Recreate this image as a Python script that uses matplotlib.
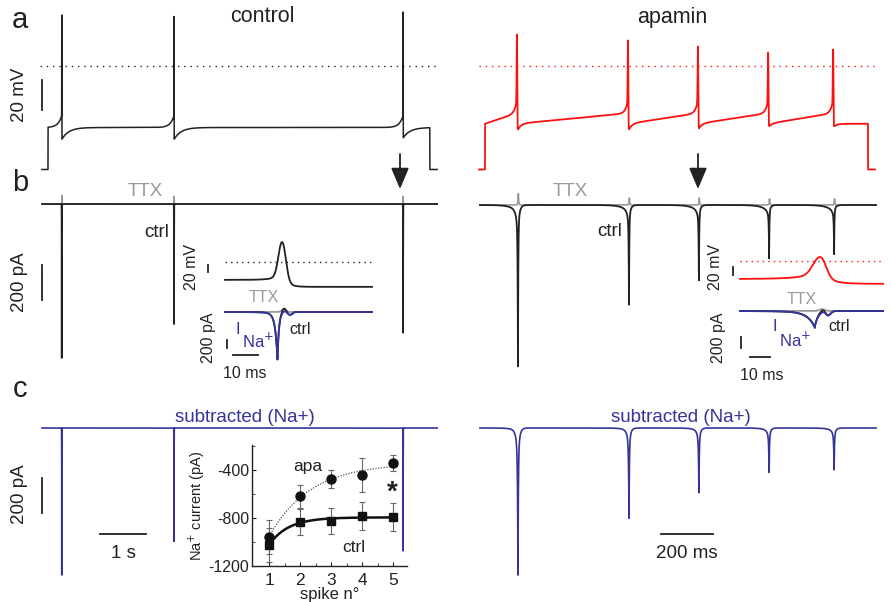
import numpy as np
import matplotlib.pyplot as plt
from matplotlib.patches import FancyArrowPatch

plt.rcParams["font.family"] = ["Liberation Sans", "DejaVu Sans"]
plt.rcParams["axes.unicode_minus"] = False

W, H = 891, 602
INK = "#222222"
RED = "#ff1010"
NAVY = "#34349a"
GREY = "#9a9a9a"

# ---- control (time in s) ----
ctrl_spike_t = [0.43, 2.87, 7.85]
ctrl_spike_peak = [34, 33, 36]          # mV
ctrl_ahp = [-49, -49, -48]              # mV
ctrl_rest, ctrl_hold = -69, -41
ctrl_step_on, ctrl_step_off, ctrl_end = 0.13, 8.43, 8.59
ctrl_i_raw = [-880, -710, -760]         # pA, panel b
ctrl_i_ttx = [50, 45, 45]
ctrl_i_sub = [-840, -670, -725]         # pA, panel c

# ---- apamin (time in ms) ----
apa_spike_t = [146, 573, 842, 1112, 1362]
apa_spike_peak = [21, 17, 13, 9, 11]
apa_ahp = [-44, -44, -43, -41, -41]
apa_rest, apa_hold = -69, -38.5
apa_step_on, apa_step_off, apa_end = 23, 1496, 1523
apa_i_raw = [-915, -550, -405, -275, -250]
apa_i_ttx = [65, 40, 40, 35, 35]
apa_i_sub = [-840, -510, -360, -240, -225]

# ---- insets (single spike, ms) ----
ins_ctrl_v = dict(t_pk=22.8, start=-51, thr=-33, peak=57, after=-71, end=58.8)
ins_apa_v = dict(t_pk=40.0, start=-45, thr=-28, peak=10, after=-57, end=71.5)
ins_ctrl_i = dict(t_pk=21.0, ina=-1100, ttx=70, rebound=-70, end=58.8)
ins_apa_i = dict(t_pk=37.5, ina=-270, ttx=35, rebound=-80, end=71.5)

# ---- summary plot ----
spike_n = [1, 2, 3, 4, 5]
apa_mean = [-958, -617, -475, -442, -342]
apa_err = [140, 95, 75, 140, 65]
ctrl_mean = [-1025, -833, -825, -783, -792]
ctrl_err = [145, 110, 110, 115, 120]

fig = plt.figure(figsize=(W / 100, H / 100), dpi=100)


class Panel:
    """axes placed on a pixel box; data mapped by origin pixel and px/unit"""
    def __init__(self, box, x0, xs, y0, ys):
        l, t, r, b = box
        self.x0, self.xs, self.y0, self.ys = x0, xs, y0, ys
        self.ax = fig.add_axes([l / W, 1 - b / H, (r - l) / W, (b - t) / H])
        self.ax.set_xlim((l - x0) / xs, (r - x0) / xs)
        self.ax.set_ylim((y0 - b) / ys, (y0 - t) / ys)
        self.ax.axis("off")

    def x(self, px):
        return (px - self.x0) / self.xs

    def y(self, py):
        return (self.y0 - py) / self.ys

    def plot(self, *a, **k):
        k.setdefault("clip_on", False)
        return self.ax.plot(*a, **k)

    def vbar(self, px, py_bottom, length, **k):
        yb = self.y(py_bottom)
        self.plot([self.x(px)] * 2, [yb, yb + length], color=INK, lw=1.3, **k)

    def hbar(self, px, py, length, **k):
        xl = self.x(px)
        self.plot([xl, xl + length], [self.y(py)] * 2, color=INK, lw=1.3, **k)


def label(x, y, s, **k):
    k.setdefault("ha", "center")
    k.setdefault("va", "center")
    k.setdefault("color", INK)
    k.setdefault("fontsize", 13.5)
    fig.text(x / W, 1 - y / H, s, **k)


def vm_trace(t, spikes, peaks, ahps, hold, rest, on, off, up, up_tau, ahp_tau, w, ramp=0.0):
    v = np.full_like(t, hold)
    edges = [on] + list(spikes)
    for t0, t1 in zip(edges[:-1], edges[1:]):
        m = (t >= t0) & (t < t1)
        v[m] += ramp * (t[m] - t0) / (t1 - t0)
    for ts, ahp in zip(spikes, ahps):
        pre = t < ts
        v[pre] += up * np.exp((t[pre] - ts) / up_tau)
        post = t >= ts
        v[post] += (ahp - hold) * np.exp(-(t[post] - ts) / ahp_tau)
    for ts, pk in zip(spikes, peaks):
        g = np.exp(-((t - ts) / w) ** 2)
        v = v + (pk - v) * g
    v[(t < on) | (t > off)] = rest
    return v


def im_trace(t, spikes, amps, tau, broad=0.0, btau=1.0, pre=0.0, pre_tau=1.0, shift=0.0):
    i = np.zeros_like(t)
    for ts, a in zip(spikes, amps):
        d = t - ts - shift
        i += a * ((1 - broad) * np.exp(-np.abs(d) / tau) + broad * np.exp(-np.abs(d) / btau))
        if pre:
            m = d < 0
            i[m] += pre * np.exp(d[m] / pre_tau)
    return i


def spike_vm(t, p, rise, decay):
    tp = t - p["t_pk"]
    v = np.where(tp < 0, p["start"] + (p["thr"] - p["start"]) * np.exp(tp / rise),
                 p["after"] + (p["thr"] - p["after"]) * np.exp(-tp / decay))
    g = np.where(tp < 0, np.exp(-(tp / (0.45 * rise + 0.6)) ** 2),
                 np.exp(-(tp / (0.6 * decay + 0.8)) ** 2))
    return v + (p["peak"] - v) * g


tc = np.linspace(0, ctrl_end, 86001)
ta = np.linspace(0, apa_end, 30461)

# ================= panel a =================
pa_c = Panel((30, 0, 445, 180), 42, 46.0, 66, 1.5)
pa_c.plot(tc, vm_trace(tc, ctrl_spike_t, ctrl_spike_peak, ctrl_ahp, ctrl_hold, ctrl_rest,
                       ctrl_step_on, ctrl_step_off, 8, 0.08, 0.15, 0.0015),
          color=INK, lw=1.1)
pa_c.plot([pa_c.x(40), pa_c.x(437)], [0, 0], color=INK, lw=1, ls=(0, (1, 3.5)))
pa_c.vbar(42, 110, 20)

pa_a = Panel((470, 0, 885, 180), 479, 0.26, 66, 1.5)
pa_a.plot(ta, vm_trace(ta, apa_spike_t, apa_spike_peak, apa_ahp, apa_hold, apa_rest,
                       apa_step_on, apa_step_off, 9, 9, 12, 1.6, ramp=7),
          color=RED, lw=1.3)
pa_a.plot([pa_a.x(479), pa_a.x(876)], [0, 0], color=RED, lw=1, ls=(0, (1, 3.5)))

# ================= panel b =================
pb_c = Panel((30, 180, 445, 390), 42, 46.0, 204, 0.175)
pb_c.plot(tc, im_trace(tc, ctrl_spike_t, ctrl_i_ttx, 0.0015, shift=0.002), color=GREY, lw=1.2)
pb_c.plot(tc, im_trace(tc, ctrl_spike_t, ctrl_i_raw, 0.0012), color=INK, lw=1.3)
pb_c.vbar(42, 300, 200)

pb_a = Panel((470, 180, 885, 390), 480, 0.26, 205, 0.175)
pb_a.plot(ta, im_trace(ta, apa_spike_t, apa_i_ttx, 1.5, shift=1.5), color=GREY, lw=1.2)
pb_a.plot(ta, im_trace(ta, apa_spike_t, apa_i_raw, 1.2, broad=0.15, btau=6, pre=-40, pre_tau=25),
          color=INK, lw=1.3)

# insets in b
ic_v = Panel((222, 235, 375, 292), 225, 2.5, 262, 0.35)
ti = np.linspace(0, ins_ctrl_v["end"], 3001)
ic_v.plot(ti, spike_vm(ti, ins_ctrl_v, 3.0, 2.0), color=INK, lw=1.3)
ic_v.plot([0, ins_ctrl_v["end"]], [0, 0], color=INK, lw=1, ls=(0, (1, 3)))
ic_v.vbar(208, 272, 20)

ic_i = Panel((222, 295, 375, 365), 225, 2.5, 312, 0.042)
p = ins_ctrl_i
ttx_i = p["ttx"] * np.exp(-((ti - p["t_pk"] - 2.5) / 1.2) ** 2)
raw_i = (p["ina"] * np.exp(-np.abs(ti - p["t_pk"]) / np.where(ti < p["t_pk"], 0.9, 0.6))
         + (p["ttx"] + 25) * np.exp(-((ti - p["t_pk"] - 2.6) / 1.1) ** 2)
         + p["rebound"] * np.exp(-((ti - p["t_pk"] - 5.0) / 1.2) ** 2)
         - 40 * np.exp((ti - p["t_pk"]) / 4) * (ti < p["t_pk"]))
ic_i.plot(ti, ttx_i, color=GREY, lw=1.3)
ic_i.plot(ti, raw_i, color=INK, lw=1.3)
ic_i.plot(ti, raw_i - ttx_i, color=NAVY, lw=1.3)
ic_i.vbar(227, 348, 200)
ic_i.hbar(233, 355, 10)

ia_v = Panel((737, 245, 886, 290), 740, 2.0, 261, 0.4)
ta2 = np.linspace(0, ins_apa_v["end"], 3001)
ia_v.plot(ta2, spike_vm(ta2, ins_apa_v, 9.0, 5.0), color=RED, lw=1.3)
ia_v.plot([0, ins_apa_v["end"]], [0, 0], color=RED, lw=1, ls=(0, (1, 3)))
ia_v.vbar(733, 275, 20)

ia_i = Panel((737, 295, 886, 365), 740, 2.0, 311, 0.055)
p = ins_apa_i
ttx_a = p["ttx"] * np.exp(-((ta2 - p["t_pk"] - 3.5) / 2.0) ** 2)
raw_a = (p["ina"] * np.exp(-np.abs(ta2 - p["t_pk"]) / np.where(ta2 < p["t_pk"], 3.5, 1.6))
         + (p["ttx"] + 10) * np.exp(-((ta2 - p["t_pk"] - 4.0) / 1.8) ** 2)
         + p["rebound"] * np.exp(-((ta2 - p["t_pk"] - 6.5) / 1.8) ** 2)
         - 35 * np.exp((ta2 - p["t_pk"]) / 10) * (ta2 < p["t_pk"]))
ia_i.plot(ta2, ttx_a, color=GREY, lw=1.3)
ia_i.plot(ta2, raw_a, color=INK, lw=1.3)
ia_i.plot(ta2, raw_a - ttx_a, color=NAVY, lw=1.3)
ia_i.vbar(741, 348, 200)
ia_i.hbar(750, 357, 10)

# ================= panel c =================
pc_c = Panel((30, 400, 445, 590), 42, 46.0, 428, 0.175)
pc_c.plot(tc, im_trace(tc, ctrl_spike_t, ctrl_i_sub, 0.0012), color=NAVY, lw=1.2)
pc_c.vbar(42, 513, 200)
pc_c.hbar(100, 534, 1.0)

pc_a = Panel((470, 400, 885, 590), 480, 0.26, 428, 0.175)
pc_a.plot(ta, im_trace(ta, apa_spike_t, apa_i_sub, 1.5, broad=0.2, btau=6, pre=-20, pre_tau=20),
          color=NAVY, lw=1.2)
pc_a.hbar(661, 534, 200)

# summary inset: Na+ current vs spike number
ax = fig.add_axes([252 / W, 1 - 566 / H, (407 - 252) / W, (566 - 445) / H])
ax.patch.set_visible(False)
ax.set_xlim(0.45, 5.45)
ax.set_ylim(-1200, -190)
for s in ("top", "right"):
    ax.spines[s].set_visible(False)
for s in ("left", "bottom"):
    ax.spines[s].set_linewidth(1.0)
    ax.spines[s].set_color(INK)
ax.set_xticks(spike_n)
ax.set_yticks([-400, -800, -1200])
ax.set_yticks([-200, -600, -1000], minor=True)
ax.set_xticks([1.5, 2.5, 3.5, 4.5], minor=True)
ax.tick_params(axis="both", which="both", direction="in", colors=INK, length=3)
ax.tick_params(axis="both", which="minor", length=2)
ax.tick_params(axis="x", labelsize=12.5, pad=5)
ax.tick_params(axis="y", labelsize=11.5, pad=2)


def exp_fit(x, y):
    x = np.asarray(x, float)
    y = np.asarray(y, float)
    best = None
    for tau in np.linspace(0.2, 4, 381):
        A = np.column_stack([np.ones_like(x), np.exp(-(x - 1) / tau)])
        coef, *_ = np.linalg.lstsq(A, y, rcond=None)
        r = np.sum((A @ coef - y) ** 2)
        if best is None or r < best[0]:
            best = (r, tau, coef)
    _, tau, coef = best
    xf = np.linspace(1, 5, 200)
    return xf, coef[0] + coef[1] * np.exp(-(xf - 1) / tau)


xf, yf = exp_fit(spike_n, apa_mean)
ax.plot(xf, yf, color="#555555", lw=0.9, ls=(0, (1, 1.2)))
xf, yf = exp_fit(spike_n, ctrl_mean)
ax.plot(xf, yf, color="#111111", lw=1.8)
ax.errorbar(spike_n, apa_mean, yerr=apa_err, fmt="o", color="#111111", ms=6.5,
            ecolor="#666666", elinewidth=0.8, capsize=2.5, capthick=0.8)
ax.errorbar(spike_n, ctrl_mean, yerr=ctrl_err, fmt="s", color="#111111", ms=6,
            ecolor="#666666", elinewidth=0.8, capsize=2.5, capthick=0.8)
ax.set_ylabel("Na$^{+}$ current (pA)", fontsize=10.5, color=INK, labelpad=1)
ax.set_xlabel("spike n°", fontsize=12, color=INK, labelpad=-1)

# ================= arrows =================
for xpx in (400, 698):
    fig.add_artist(FancyArrowPatch(
        (xpx / W, 1 - 154 / H), (xpx / W, 1 - 189 / H), transform=fig.transFigure,
        arrowstyle="-|>,head_length=1.3,head_width=0.55", mutation_scale=10,
        color=INK, lw=1.3, shrinkA=0, shrinkB=0))

# ================= texts =================
for s, y in (("a", 20), ("b", 183), ("c", 389)):
    label(20, y, s, fontsize=21)
label(262, 17, "control", fontsize=15.5)
label(672, 17, "apamin", fontsize=15.5)
label(20, 95, "20 mV", rotation=90)
label(20, 282, "200 pA", rotation=90)
label(20, 494, "200 pA", rotation=90)
label(145, 191, "TTX", color=GREY)
label(157, 232, "ctrl")
label(570, 191, "TTX", color=GREY)
label(610, 231, "ctrl")
# control inset
label(191, 267, "20 mV", rotation=90, fontsize=11.5)
label(264, 298, "TTX", color=GREY, fontsize=11.5)
label(209, 338, "200 pA", rotation=90, fontsize=11.5)
label(238, 330, "I", color=NAVY, fontsize=12)
label(242, 341, "Na$^{+}$", color=NAVY, fontsize=12, ha="left")
label(300, 329, "ctrl", fontsize=11.5)
label(245, 373, "10 ms", fontsize=11.5)
# apamin inset
label(716, 267, "20 mV", rotation=90, fontsize=11.5)
label(802, 300, "TTX", color=GREY, fontsize=11.5)
label(719, 338, "200 pA", rotation=90, fontsize=11.5)
label(775, 327, "I", color=NAVY, fontsize=12)
label(779, 340, "Na$^{+}$", color=NAVY, fontsize=12, ha="left")
label(839, 327, "ctrl", fontsize=11.5)
label(762, 375, "10 ms", fontsize=11.5)
# panel c
label(245, 417, "subtracted (Na+)", color=NAVY)
label(681, 417, "subtracted (Na+)", color=NAVY)
label(123, 553, "1 s")
label(687, 553, "200 ms")
label(308, 466, "apa", fontsize=12.5)
label(354, 547, "ctrl", fontsize=12.5)
label(392, 493, "*", fontsize=20, fontweight="bold")

fig.savefig("out.png", dpi=100)
